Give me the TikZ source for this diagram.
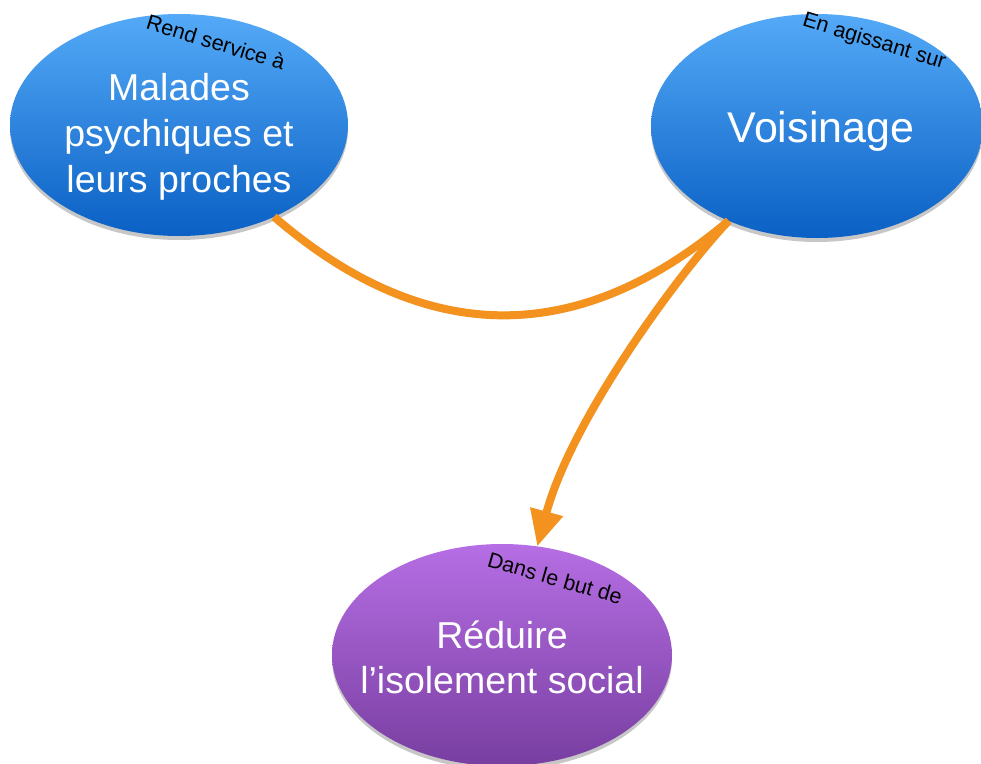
\documentclass[tikz,border=0pt]{standalone}
\usepackage{fontspec}
\setmainfont{Liberation Sans}
\usetikzlibrary{shapes.geometric,arrows.meta,shadows}
\definecolor{bluetop}{RGB}{84,170,247}
\definecolor{bluebot}{RGB}{10,96,196}
\definecolor{purtop}{RGB}{182,110,228}
\definecolor{purbot}{RGB}{120,62,160}
\definecolor{orng}{RGB}{243,146,30}
\begin{document}
\begin{tikzpicture}[x=1pt,y=-1pt,
  bub/.style={ellipse, inner sep=0pt, outer sep=0pt, draw=none,
    drop shadow={shadow xshift=0pt, shadow yshift=-4pt, opacity=0.22, fill=black}},
  bluebub/.style={bub, top color=bluetop, bottom color=bluebot},
  purbub/.style={bub, top color=purtop, bottom color=purbot},
  bigtxt/.style={text=white, align=center, inner sep=0pt, font=\fontsize{37.5}{46}\selectfont},
  lab/.style={text=black, inner sep=0pt, font=\fontsize{21.5}{24}\selectfont},
  conn/.style={draw=orng, line width=8pt}]
\clip (0,0) rectangle (981,763);
\fill[white] (0,0) rectangle (981,763);

\node[bluebub, minimum width=338pt, minimum height=222pt] (mal) at (179,125) {};
\node[bluebub, minimum width=332pt, minimum height=224pt] (voi) at (817,126) {};
\node[purbub, minimum width=340pt, minimum height=222pt] (red) at (502,655) {};

\draw[conn] (mal.-44) .. controls (425,347) and (578,348) .. (voi.-133);
\draw[conn, -{Triangle[length=36pt, width=32pt]}] (voi.-133) .. controls (680,272) and (572,418) .. (red.72);

\node[bigtxt, anchor=base] (t1) at (179,146) {psychiques et};
\node[bigtxt, anchor=base] (t0) at (179,100) {Malades};
\node[bigtxt, anchor=base] (t2) at (179,192) {leurs proches};
\node[bigtxt, anchor=base, font=\fontsize{43}{50}\selectfont] (t3) at (821,142) {Voisinage};
\node[bigtxt, anchor=base] (t4) at (502,648) {Réduire};
\node[bigtxt, anchor=base] (t5) at (502,693) {l’isolement social};

\node[lab, rotate=-17] (l1) at (216,42) {Rend service à};
\node[lab, rotate=-17] (l2) at (874,42) {En agissant sur};
\node[lab, rotate=-16] (l3) at (555,578) {Dans le but de};
\end{tikzpicture}
\end{document}
